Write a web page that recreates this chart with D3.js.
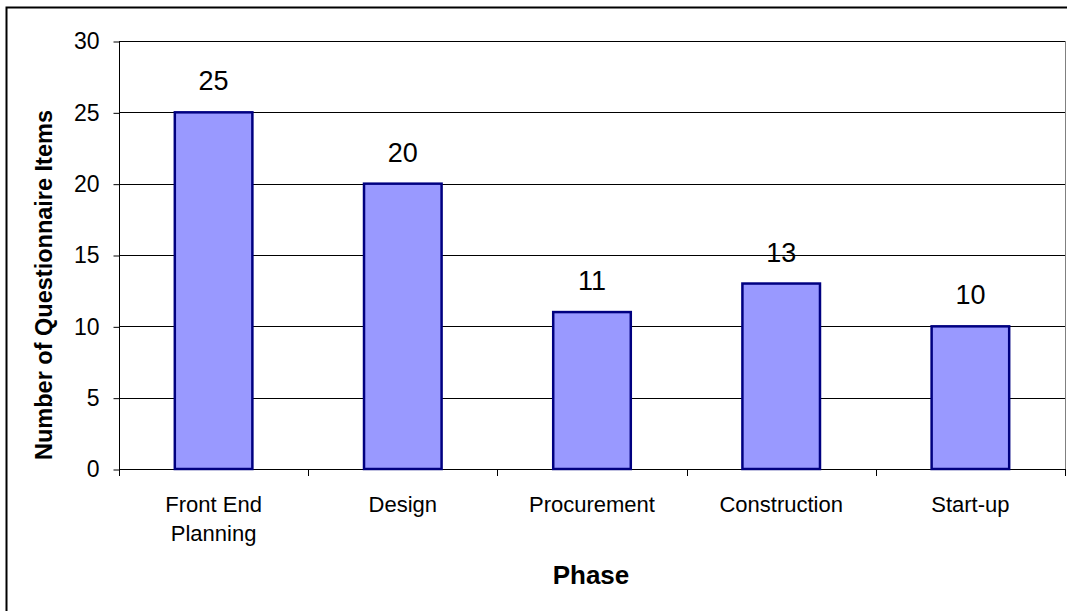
<!DOCTYPE html>
<html>
<head>
<meta charset="utf-8">
<script src="https://cdn.jsdelivr.net/npm/d3@7"></script>
<style>
  body { margin: 0; background: #fff; }
  text { font-family: "Liberation Sans", Arial, sans-serif; fill: #000; }
</style>
</head>
<body>
<div id="chart"></div>
<script>
// data
const phases = [["Front End", "Planning"], ["Design"], ["Procurement"], ["Construction"], ["Start-up"]];
const items = [25, 20, 11, 13, 10];
const yTicks = [0, 5, 10, 15, 20, 25, 30];

const w = 1067, h = 611;
const plotLeft = 119, plotRight = 1065, plotTop = 41, plotBottom = 469;

const svg = d3.select("#chart").append("svg").attr("width", w).attr("height", h);

// outer chart border (runs past the right/bottom of the picture)
svg.append("rect")
  .attr("x", 6.5).attr("y", 7.5)
  .attr("width", 1080).attr("height", 620)
  .style("fill", "none").style("stroke", "#000").style("stroke-width", 2);

// scales
const xScale = d3.scaleBand()
  .domain(d3.range(items.length))
  .range([plotLeft, plotRight])
  .paddingInner(0.59).paddingOuter(0.295);
const yScale = d3.scaleLinear().domain([0, 30]).range([plotBottom, plotTop]);

// plot area border
svg.append("rect")
  .attr("x", plotLeft + 0.5).attr("y", plotTop + 0.5)
  .attr("width", plotRight - plotLeft).attr("height", plotBottom - plotTop)
  .style("fill", "none").style("stroke", "#808080");

// gridlines
svg.append("g").selectAll("line")
  .data(yTicks.filter(d => d > 0))
  .enter().append("line")
  .attr("x1", plotLeft).attr("x2", plotRight)
  .attr("y1", d => Math.round(yScale(d)) + 0.5)
  .attr("y2", d => Math.round(yScale(d)) + 0.5)
  .style("stroke", "#000");

// y axis
const yAxis = d3.axisLeft(yScale).tickValues(yTicks).tickSize(6).tickPadding(14);
const yG = svg.append("g").attr("transform", "translate(" + (plotLeft + 0.5) + ",0.5)").call(yAxis);
yG.selectAll("text").style("font-size", "23px").style("font-family", "Liberation Sans, Arial, sans-serif");
yG.select(".domain").attr("d", "M0," + plotTop + "V" + plotBottom);

// x axis: ticks between categories
const xG = svg.append("g");
xG.append("line")
  .attr("x1", plotLeft).attr("x2", plotRight)
  .attr("y1", plotBottom + 0.5).attr("y2", plotBottom + 0.5)
  .style("stroke", "#000");
const step = xScale.step();
xG.selectAll("line.tick")
  .data(d3.range(items.length + 1))
  .enter().append("line")
  .attr("class", "tick")
  .attr("x1", i => Math.round(plotLeft + i * step) + 0.5)
  .attr("x2", i => Math.round(plotLeft + i * step) + 0.5)
  .attr("y1", plotBottom).attr("y2", plotBottom + 7)
  .style("stroke", "#000");

// bars
svg.append("g").selectAll("rect")
  .data(items)
  .enter().append("rect")
  .attr("x", (d, i) => xScale(i))
  .attr("y", d => yScale(d))
  .attr("width", xScale.bandwidth())
  .attr("height", d => plotBottom - yScale(d))
  .style("fill", "#9999ff")
  .style("stroke", "#000080")
  .style("stroke-width", 2.5);

// value labels
svg.append("g").selectAll("text")
  .data(items)
  .enter().append("text")
  .attr("x", (d, i) => xScale(i) + xScale.bandwidth() / 2)
  .attr("y", d => yScale(d) - 22)
  .attr("text-anchor", "middle")
  .style("font-size", "27px")
  .text(d => d);

// category labels
const catG = svg.append("g").selectAll("text")
  .data(phases)
  .enter().append("text")
  .attr("x", (d, i) => xScale(i) + xScale.bandwidth() / 2)
  .attr("y", 512)
  .attr("text-anchor", "middle")
  .style("font-size", "22px");
catG.selectAll("tspan")
  .data(d => d)
  .enter().append("tspan")
  .attr("x", function() { return d3.select(this.parentNode).attr("x"); })
  .attr("dy", (d, i) => i === 0 ? 0 : 29)
  .text(d => d);

// axis titles
svg.append("text")
  .attr("x", 591).attr("y", 584)
  .attr("text-anchor", "middle")
  .style("font-size", "26px").style("font-weight", "bold")
  .text("Phase");

svg.append("text")
  .attr("transform", "translate(52,285) rotate(-90)")
  .attr("text-anchor", "middle")
  .style("font-size", "23.5px").style("font-weight", "bold")
  .text("Number of Questionnaire Items");
</script>
</body>
</html>
